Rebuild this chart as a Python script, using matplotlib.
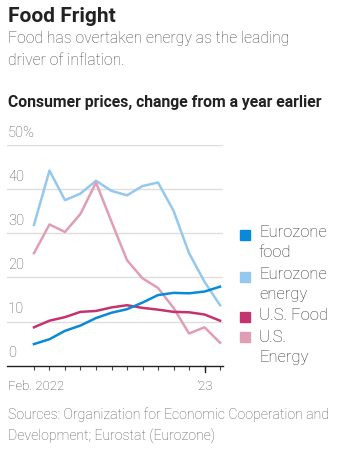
import matplotlib
matplotlib.use("Agg")
import matplotlib.pyplot as plt
from matplotlib.patches import Rectangle

plt.rcParams['font.family'] = ['Roboto', 'DejaVu Sans']

months = list(range(13))  # Feb 2022 .. Feb 2023
euro_food = [4.9, 6.0, 7.9, 9.1, 10.8, 12.0, 12.8, 14.3, 16.0, 16.5, 16.4, 16.8, 17.9]
euro_energy = [31.9, 44.2, 37.5, 39.0, 41.9, 39.6, 38.6, 40.7, 41.5, 35.1, 25.5, 19.0, 13.7]
us_food = [8.7, 10.2, 11.0, 12.2, 12.4, 13.2, 13.7, 13.1, 12.7, 12.2, 12.1, 11.6, 10.2]
us_energy = [25.5, 32.0, 30.3, 34.4, 41.5, 32.6, 23.9, 19.8, 17.6, 13.1, 7.3, 8.7, 5.2]

series = [
    ("Eurozone\nfood", euro_food, "#0a8ad6"),
    ("Eurozone\nenergy", euro_energy, "#95c8ee"),
    ("U.S. Food", us_food, "#c4336f"),
    ("U.S.\nEnergy", us_energy, "#e29db6"),
]
yticks = [0, 10, 20, 30, 40, 50]
ytick_labels = ["0", "10", "20", "30", "40", "50%"]

W, H = 350, 454
fig = plt.figure(figsize=(W / 100, H / 100), dpi=100)
ax = fig.add_axes([7 / W, 1 - 365.7 / H, 216 / W, 220.7 / H])

# energy first so the food lines sit on top
for i in [1, 3, 2, 0]:
    name, vals, col = series[i]
    ax.plot(months, vals, color=col, lw=1.8, zorder=3)

ax.set_xlim(-1.74, 12.19)
ax.set_ylim(0, 50)
for y in yticks[1:]:
    ax.axhline(y, color="#dedede", lw=1, zorder=1)
for y, lab in zip(yticks, ytick_labels):
    ax.text(0.005, y + 1.2, lab, transform=ax.get_yaxis_transform(), ha='left', va='bottom',
            fontsize=10.5, color="#555555", fontweight='light')

for s in ['top', 'right', 'left']:
    ax.spines[s].set_visible(False)
ax.spines['bottom'].set_color("#222222")
ax.spines['bottom'].set_linewidth(1)
ax.set_yticks([])
ax.set_xticks(months)
ax.set_xticklabels([])
ax.tick_params(axis='x', direction='out', length=3, width=0.8, color="#444444")
ax.plot([11, 11], [0, -1.5], color="#222222", lw=1, clip_on=False)
ax.text(-1.65, -3.2, "Feb. 2022", ha='left', va='top', fontsize=9.5, color="#444444",
        fontweight='light')
ax.text(11, -3.2, "\u201923", ha='center', va='top', fontsize=9.5, color="#444444",
        fontweight='light')

# legend
sq_y = [235, 277, 317, 337]
txt_y = [234, 276, 317, 339]
for (name, vals, col), sy, ty in zip(series, sq_y, txt_y):
    fig.patches.append(Rectangle((240 / W, 1 - (sy + 5) / H), 10 / W, 10 / H,
                                 transform=fig.transFigure, color=col))
    fig.text(259 / W, 1 - (ty - 9) / H, name, ha='left', va='top', fontsize=12,
             color="#333333", fontweight='light', linespacing=1.4)

fig.text(8 / W, 1 - 16 / H, "Food Fright", fontsize=15, fontweight='bold',
         color="#222222", va='center', ha='left')
fig.text(8 / W, 1 - 49.5 / H, "Food has overtaken energy as the leading\ndriver of inflation.",
         fontsize=11.3, color="#4a4a4a", va='center', ha='left', fontweight='light',
         linespacing=1.55)
fig.text(8 / W, 1 - 103 / H, "Consumer prices, change from a year earlier",
         fontsize=11.3, fontweight='bold', color="#222222", va='center', ha='left')
fig.text(8 / W, 1 - 426 / H,
         "Sources: Organization for Economic Cooperation and\nDevelopment; Eurostat (Eurozone)",
         fontsize=10.2, color="#5a5a5a", va='center', ha='left', fontweight='light',
         linespacing=1.6)

fig.savefig("out.png", dpi=100)
